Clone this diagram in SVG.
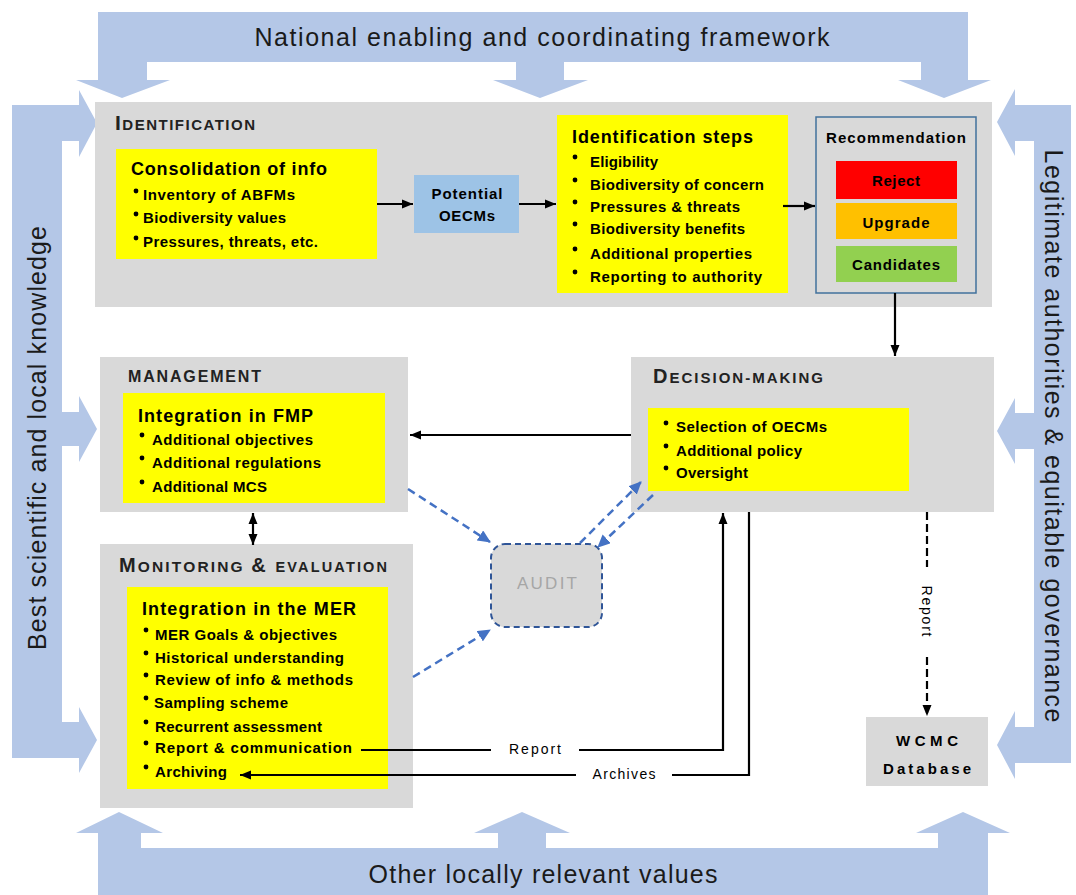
<svg xmlns="http://www.w3.org/2000/svg" width="1076" height="895" viewBox="0 0 1076 895">
<defs>
<style>
.band{fill:#b4c7e7}
.panel{fill:#d9d9d9}
.yel{fill:#ffff00}
.bt{font-family:"Liberation Sans",Arial,sans-serif;font-size:25px;fill:#1a1a1a}
.h{font-family:"Liberation Sans",Arial,sans-serif;font-weight:bold;fill:#222}
.t{font-family:"Liberation Sans",Arial,sans-serif;font-weight:bold;font-size:15px;fill:#000}
.ti{font-family:"Liberation Sans",Arial,sans-serif;font-weight:bold;font-size:18px;fill:#000}
.lbl{font-family:"Liberation Sans",Arial,sans-serif;font-size:14px;fill:#000}
.c{text-anchor:middle}
.ln{stroke:#000;stroke-width:2.2;fill:none}
.bl{stroke:#4472c4;stroke-width:2.5;fill:none;stroke-dasharray:8,5}
</style>
<marker id="ah" markerUnits="userSpaceOnUse" markerWidth="11" markerHeight="10" refX="11" refY="5" orient="auto-start-reverse"><path d="M0,0.5 L11,5 L0,9.5 z" fill="#000"/></marker>
<marker id="bh" markerUnits="userSpaceOnUse" markerWidth="13" markerHeight="12" refX="12" refY="6" orient="auto"><path d="M0,0 L13,6 L0,12 z" fill="#4472c4"/></marker>
</defs>

<g id="frame">
<polygon class="band" points="98,12 968,12 968,80 991,80 944,98 898,80 921,80 921,62 564,62 564,80 588,80 540,98 493,80 516,80 516,62 147,62 147,80 170,80 122,98 76,80 98,80"/>
<polygon class="band" points="12,105 79,105 79,90 97,123 79,157 79,141 62,141 62,412 79,412 79,396 97,429 79,462 79,446 62,446 62,722 79,722 79,707 97,740 79,773 79,758 12,758"/>
<polygon class="band" points="1071,105 1015,105 1015,89 997,122 1015,156 1015,141 1034,141 1034,413 1015,413 1015,398 997,431 1015,464 1015,449 1034,449 1034,727 1015,727 1015,711 997,745 1015,779 1015,763 1071,763"/>
<polygon class="band" points="98,895 98,833 76,833 119,812 163,833 141,833 141,848 498,848 498,833 474,833 522,812 570,833 546,833 546,848 938,848 938,833 916,833 963,812 1010,833 988,833 988,895"/>
<text class="bt c" x="542" y="46" textLength="575">National enabling and coordinating framework</text>
<text class="bt c" x="543" y="883" textLength="349">Other locally relevant values</text>
<text class="bt c" transform="translate(46,438) rotate(-90)" textLength="424">Best scientific and local knowledge</text>
<text class="bt c" transform="translate(1045,436) rotate(90)" textLength="573">Legitimate authorities &amp; equitable governance</text>
</g>

<g id="identification">
<rect class="panel" x="95" y="102" width="897" height="205"/>
<text class="h" x="115" y="130" textLength="140"><tspan font-size="21">I</tspan><tspan font-size="15">DENTIFICATION</tspan></text>
</g>

<g id="consolidation">
<rect class="yel" x="116" y="149" width="261" height="110"/>
<text class="ti" x="131" y="175" textLength="196">Consolidation of info</text>
<circle cx="136" cy="191" r="2.4"/><text class="t" x="143" y="200" textLength="152">Inventory of ABFMs</text>
<circle cx="136" cy="214" r="2.4"/><text class="t" x="143" y="223" textLength="143">Biodiversity values</text>
<circle cx="136" cy="238" r="2.4"/><text class="t" x="143" y="247" textLength="175">Pressures, threats, etc.</text>
</g>

<g id="potential">
<rect x="414" y="175" width="105" height="58" fill="#9dc3e6"/>
<text class="t c" x="467" y="199" textLength="71">Potential</text>
<text class="t c" x="467" y="221" textLength="56">OECMs</text>
</g>

<g id="steps">
<rect class="yel" x="557" y="115" width="231" height="178"/>
<text class="ti" x="572" y="143" textLength="181">Identification steps</text>
<circle cx="575" cy="157" r="2.4"/><text class="t" x="590" y="167" textLength="68">Eligibility</text>
<circle cx="575" cy="180" r="2.4"/><text class="t" x="590" y="190" textLength="174">Biodiversity of concern</text>
<circle cx="575" cy="202" r="2.4"/><text class="t" x="590" y="212" textLength="150">Pressures &amp; threats</text>
<circle cx="575" cy="224" r="2.4"/><text class="t" x="590" y="234" textLength="155">Biodiversity benefits</text>
<circle cx="575" cy="249" r="2.4"/><text class="t" x="590" y="259" textLength="162">Additional properties</text>
<circle cx="575" cy="272" r="2.4"/><text class="t" x="590" y="282" textLength="172">Reporting to authority</text>
</g>

<g id="recommendation">
<rect x="816" y="117" width="160" height="176" fill="#d9d9d9" stroke="#41719c" stroke-width="1.5"/>
<text class="t c" x="896" y="143" textLength="140">Recommendation</text>
<rect x="836" y="161" width="121" height="38" fill="#ff0000"/>
<text class="t c" x="896" y="186" textLength="48">Reject</text>
<rect x="836" y="203" width="121" height="36" fill="#ffc000"/>
<text class="t c" x="896" y="228" textLength="67">Upgrade</text>
<rect x="836" y="246" width="121" height="36" fill="#92d050"/>
<text class="t c" x="896" y="270" textLength="88">Candidates</text>
</g>

<g id="management">
<rect class="panel" x="100" y="357" width="308" height="155"/>
<text class="h" x="128" y="382" font-size="16" textLength="133">MANAGEMENT</text>
<rect class="yel" x="123" y="393" width="262" height="110"/>
<text class="ti" x="138" y="422" textLength="175">Integration in FMP</text>
<circle cx="142" cy="435" r="2.4"/><text class="t" x="152" y="445" textLength="161">Additional objectives</text>
<circle cx="142" cy="458" r="2.4"/><text class="t" x="152" y="468" textLength="169">Additional regulations</text>
<circle cx="142" cy="482" r="2.4"/><text class="t" x="152" y="492" textLength="115">Additional MCS</text>
</g>

<g id="monitoring">
<rect class="panel" x="100" y="544" width="313" height="264"/>
<text class="h" x="119" y="572" textLength="268"><tspan font-size="20">M</tspan><tspan font-size="15.5">ONITORING </tspan><tspan font-size="20">&amp; </tspan><tspan font-size="14.5">EVALUATION</tspan></text>
<rect class="yel" x="127" y="587" width="261" height="202"/>
<text class="ti" x="142" y="615" textLength="214">Integration in the MER</text>
<circle cx="146" cy="630" r="2.4"/><text class="t" x="155" y="640" textLength="182">MER Goals &amp; objectives</text>
<circle cx="146" cy="653" r="2.4"/><text class="t" x="155" y="663" textLength="189">Historical understanding</text>
<circle cx="146" cy="675" r="2.4"/><text class="t" x="155" y="685" textLength="198">Review of info &amp; methods</text>
<circle cx="146" cy="698" r="2.4"/><text class="t" x="154" y="708" textLength="134">Sampling scheme</text>
<circle cx="146" cy="722" r="2.4"/><text class="t" x="155" y="732" textLength="167">Recurrent assessment</text>
<circle cx="146" cy="743" r="2.4"/><text class="t" x="155" y="753" textLength="197">Report &amp; communication</text>
<circle cx="146" cy="767" r="2.4"/><text class="t" x="155" y="777" textLength="72">Archiving</text>
</g>

<g id="decision">
<rect class="panel" x="631" y="357" width="363" height="155"/>
<text class="h" x="653" y="383" textLength="170"><tspan font-size="20">D</tspan><tspan font-size="15">ECISION-MAKING</tspan></text>
<rect class="yel" x="648" y="408" width="261" height="83"/>
<circle cx="666" cy="423" r="2.4"/><text class="t" x="676" y="432" textLength="151">Selection of OECMs</text>
<circle cx="666" cy="446" r="2.4"/><text class="t" x="676" y="456" textLength="126">Additional policy</text>
<circle cx="666" cy="468" r="2.4"/><text class="t" x="676" y="478" textLength="72">Oversight</text>
</g>

<g id="audit">
<rect x="491" y="544" width="111" height="83" rx="14" fill="#d9d9d9" stroke="#2f5597" stroke-width="2" stroke-dasharray="6,4"/>
<text class="c" x="547" y="589" font-family="Liberation Sans,Arial,sans-serif" font-size="17" fill="#a6a6a6" textLength="60">AUDIT</text>
</g>

<g id="wcmc">
<rect class="panel" x="866" y="717" width="122" height="69"/>
<text class="t c" x="927" y="746" font-size="17" textLength="62">WCMC</text>
<text class="t c" x="927" y="774" font-size="17" textLength="88">Database</text>
</g>

<g id="connectors">
<line class="ln" x1="377" y1="204" x2="413" y2="204" marker-end="url(#ah)"/>
<line class="ln" x1="519" y1="204" x2="556" y2="204" marker-end="url(#ah)"/>
<line class="ln" x1="783" y1="206" x2="815" y2="206" marker-end="url(#ah)"/>
<line class="ln" x1="895" y1="293" x2="895" y2="356" marker-end="url(#ah)"/>
<line class="ln" x1="631" y1="435" x2="410" y2="435" marker-end="url(#ah)"/>
<line class="ln" x1="253" y1="513" x2="253" y2="545" marker-start="url(#ah)" marker-end="url(#ah)"/>
<line class="ln" x1="361" y1="750" x2="491" y2="750"/>
<polyline class="ln" points="579,750 723,750 723,513" marker-end="url(#ah)"/>
<polyline class="ln" points="749,512 749,775 672,775"/>
<line class="ln" x1="576" y1="775" x2="240" y2="775" marker-end="url(#ah)"/>
<line class="ln" x1="927" y1="512" x2="927" y2="567" stroke-dasharray="8,4"/>
<line class="ln" x1="927" y1="657" x2="927" y2="716" stroke-dasharray="8,4" marker-end="url(#ah)"/>
<text class="lbl c" x="535" y="754" textLength="52">Report</text>
<text class="lbl c" x="624" y="779" textLength="63">Archives</text>
<text class="lbl c" transform="translate(922,611) rotate(90)" textLength="51">Report</text>
<line class="bl" x1="408" y1="489" x2="490" y2="542" marker-end="url(#bh)"/>
<line class="bl" x1="413" y1="677" x2="490" y2="630" marker-end="url(#bh)"/>
<line class="bl" x1="580" y1="543" x2="641" y2="482" marker-end="url(#bh)"/>
<line class="bl" x1="653" y1="495" x2="598" y2="547" marker-end="url(#bh)"/>
</g>
</svg>
